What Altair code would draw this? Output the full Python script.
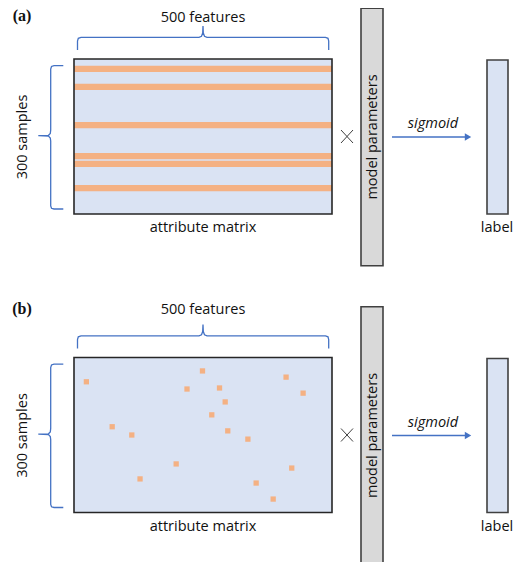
import altair as alt
import pandas as pd

# ---------------- data ----------------
N_FEATURES = 500
N_SAMPLES = 300
PANELS = ["(a)", "(b)"]

# (a) whole samples (rows) that are selected -> horizontal stripes (sample index of stripe centre)
STRIPE_SAMPLES = [19, 54, 128, 188, 203, 250]
STRIPE_ROWS = 12  # rows covered by one stripe

# (b) individual selected cells
DOT_FEATURES = [24, 249, 411, 219, 282, 444, 293, 267, 74, 298, 112, 337, 198, 422, 128, 353, 386]
DOT_SAMPLES = [47, 26, 38, 61, 59, 69, 86, 111, 134, 142, 150, 158, 206, 214, 235, 243, 274]

TXT_FEATURES = "500 features"
TXT_SAMPLES = "300 samples"
TXT_MATRIX = "attribute matrix"
TXT_PARAMS = "model parameters"
TXT_SIGMOID = "sigmoid"
TXT_LABEL = "label"

# ---------------- layout (page pixels) ----------------
W, H = 507, 554
SHIFT = [0, 298.5]
MAT_X = (74, 332)
MAT_Y = (59, 214)

BLUE = "#4472C4"
MAT_FILL = "#DAE3F3"
ORANGE = "#F4B183"
GREY = "#D9D9D9"
EDGE = "#262626"
FONT = "Open Sans"

PX = alt.Scale(domain=[8, 8 + W], range=[0, W])
PY = alt.Scale(domain=[8, 8 + H], range=[0, H])


def fx():
    return alt.Scale(domain=[0, N_FEATURES], range=[MAT_X[0] - 8, MAT_X[1] - 8])


def fy(shift):
    return alt.Scale(domain=[0, N_SAMPLES], range=[MAT_Y[0] - 8 + shift, MAT_Y[1] - 8 + shift])


def px_enc(**kw):
    enc = {}
    for k, v in kw.items():
        if k == "x":
            enc[k] = alt.X(v, scale=PX, axis=None)
        elif k == "y":
            enc[k] = alt.Y(v, scale=PY, axis=None)
        else:
            enc[k] = v
    return enc


layers = []

# ---- attribute matrices ----
for p, sh in enumerate(SHIFT):
    base = pd.DataFrame({"f0": [0], "f1": [N_FEATURES], "s0": [0], "s1": [N_SAMPLES]})
    enc = dict(
        x=alt.X("f0:Q", scale=fx(), axis=None), x2="f1:Q",
        y=alt.Y("s0:Q", scale=fy(sh), axis=None), y2="s1:Q",
    )
    layers.append(alt.Chart(base).mark_rect(fill=MAT_FILL).encode(**enc))
    if p == 0:
        st = pd.DataFrame({
            "f0": [0] * len(STRIPE_SAMPLES),
            "f1": [N_FEATURES] * len(STRIPE_SAMPLES),
            "s0": [s - STRIPE_ROWS / 2 for s in STRIPE_SAMPLES],
            "s1": [s + STRIPE_ROWS / 2 for s in STRIPE_SAMPLES],
        })
        layers.append(alt.Chart(st).mark_rect(fill=ORANGE).encode(
            x=alt.X("f0:Q", scale=fx(), axis=None), x2="f1:Q",
            y=alt.Y("s0:Q", scale=fy(sh), axis=None), y2="s1:Q"))
    else:
        dots = pd.DataFrame({"f": DOT_FEATURES, "s": DOT_SAMPLES})
        layers.append(alt.Chart(dots).mark_square(size=28, color=ORANGE, opacity=1, filled=True).encode(
            x=alt.X("f:Q", scale=fx(), axis=None),
            y=alt.Y("s:Q", scale=fy(sh), axis=None)))
    layers.append(alt.Chart(base).mark_rect(fillOpacity=0, stroke=EDGE, strokeWidth=1.6).encode(**enc))

# ---- model-parameter and label boxes ----
boxes = pd.DataFrame({
    "x0": [361, 487, 361, 487],
    "x1": [383, 508, 383, 508],
    "y0": [8.3, 60, 8.3 + SHIFT[1], 60 + SHIFT[1]],
    "y1": [265.7, 214, 265.7 + SHIFT[1], 214 + SHIFT[1]],
    "fill": [GREY, MAT_FILL, GREY, MAT_FILL],
})
layers.append(alt.Chart(boxes).mark_rect(stroke="#404040", strokeWidth=1.6).encode(
    **px_enc(x="x0:Q", x2="x1:Q", y="y0:Q", y2="y1:Q"),
    fill=alt.Fill("fill:N", scale=None)))

# ---- braces ----
top_pts = [(77.5, 50), (77.5, 41), (78.3, 38.3), (81, 37.3), (199, 37.3), (201.5, 36.3),
           (202.7, 33), (203, 26), (203.3, 33), (204.5, 36.3), (207, 37.3), (325.5, 37.3),
           (328, 38.3), (328.7, 41), (328.7, 50)]
left_pts = [(63.3, 65.7), (54, 65.7), (51.5, 66.5), (50.7, 69), (50.7, 130), (50.3, 133.5),
            (48.5, 135.3), (38.3, 135.7), (48.5, 136.1), (50.3, 138), (50.7, 141), (50.7, 206),
            (51.5, 208.3), (54, 209), (63.3, 209)]
rows = []
for p, sh in enumerate(SHIFT):
    for name, pts in (("top", top_pts), ("left", left_pts)):
        for i, (x, y) in enumerate(pts):
            rows.append({"x": x, "y": y + sh, "order": i, "brace": f"{name}{p}"})
braces = pd.DataFrame(rows)
layers.append(alt.Chart(braces).mark_line(color=BLUE, strokeWidth=1.3).encode(
    **px_enc(x="x:Q", y="y:Q"), order=alt.Order("order:Q"), detail="brace:N"))

# ---- multiplication sign ----
xs = pd.DataFrame({
    "x0": [341, 341, 341, 341], "x1": [353, 353, 353, 353],
    "y0": [130, 143, 130 + SHIFT[1], 143 + SHIFT[1]],
    "y1": [143, 130, 143 + SHIFT[1], 130 + SHIFT[1]],
})
layers.append(alt.Chart(xs).mark_rule(color="#404040", strokeWidth=1).encode(
    **px_enc(x="x0:Q", x2="x1:Q", y="y0:Q", y2="y1:Q")))

# ---- sigmoid arrows ----
arr = pd.DataFrame({"x0": [392, 392], "x1": [466, 466], "y": [137 + s for s in SHIFT]})
layers.append(alt.Chart(arr).mark_rule(color=BLUE, strokeWidth=1.6).encode(
    **px_enc(x="x0:Q", x2="x1:Q", y="y:Q")))
heads = pd.DataFrame({"x": [468, 468], "y": [137 + s for s in SHIFT]})
layers.append(alt.Chart(heads).mark_point(shape="triangle-right", size=55, filled=True,
                                          color=BLUE, opacity=1).encode(
    **px_enc(x="x:Q", y="y:Q")))


# ---- texts ----
def text_layer(rows, **mark):
    return alt.Chart(pd.DataFrame(rows, columns=["x", "y", "t"])).mark_text(
        baseline="middle", align="center", color="#111111", **mark).encode(
        **px_enc(x="x:Q", y="y:Q"), text="t:N")


plain = []
rot = []
ital = []
for sh in SHIFT:
    plain += [(203, 228 + sh, TXT_MATRIX), (497, 228 + sh, TXT_LABEL)]
    rot += [(22.5, 137 + sh, TXT_SAMPLES), (372.5, 137 + sh, TXT_PARAMS)]
    ital += [(433, 124 + sh, TXT_SIGMOID)]
plain += [(203, 18, TXT_FEATURES), (203, 310, TXT_FEATURES)]

layers.append(text_layer(plain, font=FONT, fontSize=14.5))
layers.append(text_layer(rot, font=FONT, fontSize=14.5, angle=270))
layers.append(text_layer(ital, font=FONT, fontSize=14.5, fontStyle="italic"))
layers.append(text_layer([(22, 16, PANELS[0]), (22, 308.5, PANELS[1])],
                         font="Liberation Serif", fontWeight="bold", fontSize=16))

chart = alt.layer(*layers).resolve_scale(x="independent", y="independent").properties(
    width=W, height=H, autosize=alt.AutoSizeParams(type="none"), padding=0
).configure_view(strokeWidth=0)

chart.save("out.html", embed_options={"renderer": "svg", "actions": False})
